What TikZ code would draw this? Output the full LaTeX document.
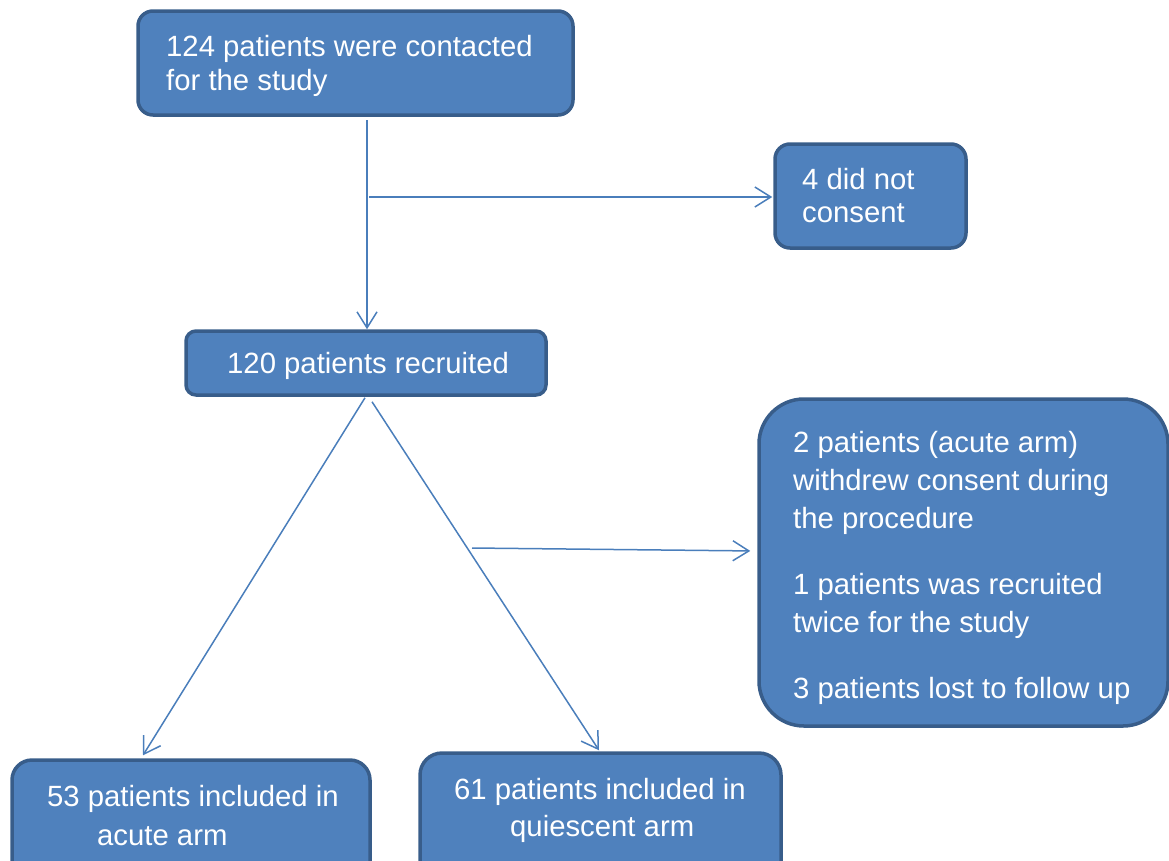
\documentclass[tikz,border=0pt]{standalone}
\usepackage{fontspec}
\setmainfont{Liberation Sans}
\usetikzlibrary{arrows.meta}
\definecolor{boxfill}{HTML}{4F81BD}
\definecolor{boxline}{HTML}{385D8A}
\definecolor{conn}{HTML}{4A7EBB}
\begin{document}
\begin{tikzpicture}[x=1pt,y=-1pt,
  box/.style={draw=boxline, line width=3.5pt, fill=boxfill, inner sep=0pt},
  txt/.style={anchor=base west, inner sep=0pt, text=white, font=\fontsize{29.3}{35}\selectfont},
  arr/.style={draw=conn, line width=1.5pt, -{Straight Barb[length=16pt,width=20pt]}}]
\useasboundingbox (0,0) rectangle (1169,860);
\clip (0,0) rectangle (1169,860);
% boxes
\node[box, minimum width=435pt, minimum height=104pt, rounded corners=15pt] (top) at (355.5,63) {};
\node[box, minimum width=191pt, minimum height=104pt, rounded corners=15pt] (dnc) at (870.5,196) {};
\node[box, minimum width=360pt, minimum height=64pt, rounded corners=10pt] (recr) at (366,363) {};
\node[box, minimum width=409pt, minimum height=327pt, rounded corners=45pt] (right) at (963.5,562.5) {};
\node[box, minimum width=358pt, minimum height=140pt, rounded corners=20pt] (acute) at (191,830) {};
\node[box, minimum width=361pt, minimum height=147pt, rounded corners=22pt] (quie) at (600.5,826.5) {};
% texts
\node[txt] (t1) at (166,56) {124 patients were contacted};
\node[txt] (t2) at (166,90) {for the study};
\node[txt] (t3) at (802,189) {4 did not};
\node[txt] (t4) at (802,222) {consent};
\node[txt] (t5) at (227,373) {120 patients recruited};
\node[txt] (t6) at (793,452) {2 patients (acute arm)};
\node[txt] (t7) at (793,490) {withdrew consent during};
\node[txt] (t8) at (793,528) {the procedure};
\node[txt] (t9) at (793,594) {1 patients was recruited};
\node[txt] (t10) at (793,632) {twice for the study};
\node[txt] (t11) at (793,698) {3 patients lost to follow up};
\node[txt] (t12) at (47,806) {53 patients included in};
\node[txt] (t13) at (97,845) {acute arm};
\node[txt] (t14) at (454,799) {61 patients included in};
\node[txt] (t15) at (510,836) {quiescent arm};
% connectors
\coordinate (v1) at (367,120);
\coordinate (h1) at (369,197);
\coordinate (h2) at (472,548);
\draw[arr] (v1) -- (v1 |- recr.north);
\draw[arr, shorten >=1pt] (h1) -- (h1 -| dnc.west);
\draw[arr] ([xshift=-1pt,yshift=-1pt]recr.south) -- ([xshift=-48pt,yshift=3pt]acute.north);
\draw[arr] ([xshift=6pt,yshift=-5pt]recr.south) -- ([xshift=-1.5pt,yshift=1pt]quie.north);
\draw[arr, shorten >=7pt] (h2) -- ([yshift=11.5pt]right.west);
\end{tikzpicture}
\end{document}
